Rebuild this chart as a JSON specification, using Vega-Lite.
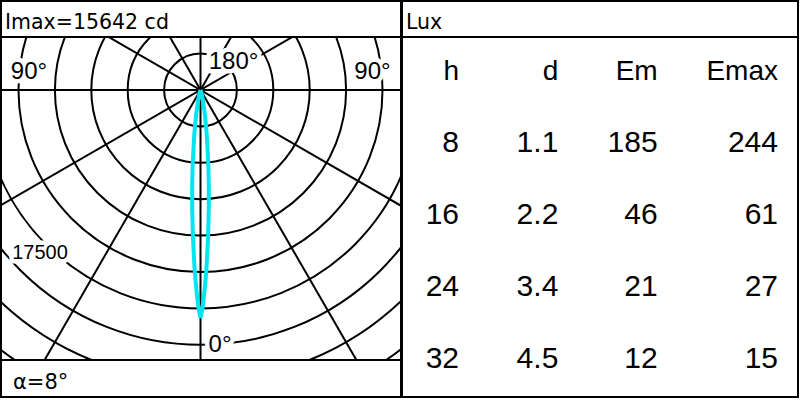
{
  "$schema": "https://vega.github.io/schema/vega-lite/v6.json",
  "padding": 0,
  "background": "white",
  "spacing": -2,
  "config": {"view": {"stroke": "black", "strokeWidth": 2}, "concat": {"spacing": 0}},
  "hconcat": [
    {
      "spacing": 0,
      "bounds": "flush",
      "vconcat": [
        {
          "width": 400, "height": 36,
          "data": {"values": [{"label": "Imax=15642 cd"}]},
          "mark": {"type": "text", "align": "left", "baseline": "alphabetic", "font": "DejaVu Sans", "fontSize": 20.5, "dx": 4, "dy": 10, "color": "black"},
          "encoding": {
            "x": {"datum": 0, "type": "quantitative", "scale": {"domain": [0, 1]}, "axis": null},
            "text": {"field": "label", "type": "nominal"}
          }
        },
        {
          "width": 400, "height": 323,
          "layer": [
            {
              "data": {"values": [{"r": 2500}, {"r": 5000}, {"r": 7500}, {"r": 10000}, {"r": 12500}, {"r": 15000}, {"r": 17500}, {"r": 20000}, {"r": 22500}]},
              "mark": {"type": "point", "shape": "circle", "filled": false, "stroke": "black", "strokeWidth": 2, "opacity": 1, "clip": true},
              "encoding": {
                "x": {"datum": 0, "type": "quantitative", "scale": {"domain": [-13702, 13770], "nice": false, "zero": false}, "axis": null},
                "y": {"datum": 0, "type": "quantitative", "scale": {"domain": [-18544, 3640], "nice": false, "zero": false}, "axis": null},
                "size": {"field": "r", "type": "quantitative", "scale": {"type": "pow", "exponent": 2, "domain": [0, 25000], "range": [0, 529984]}, "legend": null}
              }
            },
            {
              "data": {"values": [
                {"ang": 0, "x1": 0, "y1": -30000, "x2": 0, "y2": 30000},
                {"ang": 30, "x1": 15000, "y1": -25981, "x2": -15000, "y2": 25981},
                {"ang": 60, "x1": 25981, "y1": -15000, "x2": -25981, "y2": 15000},
                {"ang": 90, "x1": 30000, "y1": 0, "x2": -30000, "y2": 0},
                {"ang": 120, "x1": 25981, "y1": 15000, "x2": -25981, "y2": -15000},
                {"ang": 150, "x1": 15000, "y1": 25981, "x2": -15000, "y2": -25981}
              ]},
              "mark": {"type": "rule", "color": "black", "strokeWidth": 2, "clip": true},
              "encoding": {
                "x": {"field": "x1", "type": "quantitative", "scale": {"domain": [-13702, 13770], "nice": false, "zero": false}, "axis": null},
                "x2": {"field": "x2"},
                "y": {"field": "y1", "type": "quantitative", "scale": {"domain": [-18544, 3640], "nice": false, "zero": false}, "axis": null},
                "y2": {"field": "y2"}
              }
            },
            {
              "data": {"values": [
                {"angle": -30, "x": 0, "y": 0},
                {"angle": -20, "x": -23, "y": -63},
                {"angle": -15, "x": -97, "y": -363},
                {"angle": -12, "x": -202, "y": -952},
                {"angle": -10, "x": -306, "y": -1736},
                {"angle": -8, "x": -428, "y": -3048},
                {"angle": -6, "x": -538, "y": -5115},
                {"angle": -5, "x": -569, "y": -6501},
                {"angle": -4, "x": -569, "y": -8134},
                {"angle": -3, "x": -524, "y": -10005},
                {"angle": -2, "x": -421, "y": -12044},
                {"angle": -1.5, "x": -343, "y": -13082},
                {"angle": -1, "x": -246, "y": -14088},
                {"angle": -0.5, "x": -131, "y": -15002},
                {"angle": 0, "x": 0, "y": -15642},
                {"angle": 0.5, "x": 131, "y": -15002},
                {"angle": 1, "x": 246, "y": -14088},
                {"angle": 1.5, "x": 343, "y": -13082},
                {"angle": 2, "x": 421, "y": -12044},
                {"angle": 3, "x": 524, "y": -10005},
                {"angle": 4, "x": 569, "y": -8134},
                {"angle": 5, "x": 569, "y": -6501},
                {"angle": 6, "x": 538, "y": -5115},
                {"angle": 8, "x": 428, "y": -3048},
                {"angle": 10, "x": 306, "y": -1736},
                {"angle": 12, "x": 202, "y": -952},
                {"angle": 15, "x": 97, "y": -363},
                {"angle": 20, "x": 23, "y": -63},
                {"angle": 30, "x": 0, "y": 0}
              ]},
              "mark": {"type": "line", "color": "#00e6f0", "strokeWidth": 4, "clip": true},
              "encoding": {
                "x": {"field": "x", "type": "quantitative", "scale": {"domain": [-13702, 13770], "nice": false, "zero": false}, "axis": null},
                "y": {"field": "y", "type": "quantitative", "scale": {"domain": [-18544, 3640], "nice": false, "zero": false}, "axis": null},
                "order": {"field": "angle", "type": "quantitative"}
              }
            },
            {
              "data": {"name": "labels", "values": [
                {"label": "90°", "x": -11779, "y": 1236},
                {"label": "90°", "x": 11813, "y": 1236},
                {"label": "180°", "x": 2266, "y": 1957},
                {"label": "0°", "x": 1339, "y": -17513},
                {"label": "17500", "x": -11023, "y": -11161}
              ]},
              "layer": [
                {
                  "mark": {"type": "text", "font": "Liberation Sans", "align": "center", "baseline": "middle", "fill": "white", "stroke": "white", "strokeWidth": 9, "strokeJoin": "round"},
                  "encoding": {
                    "x": {"field": "x", "type": "quantitative", "scale": {"domain": [-13702, 13770], "nice": false, "zero": false}, "axis": null},
                    "y": {"field": "y", "type": "quantitative", "scale": {"domain": [-18544, 3640], "nice": false, "zero": false}, "axis": null},
                    "text": {"field": "label", "type": "nominal"},
                    "size": {"condition": {"test": "datum.label === '17500'", "value": 20}, "value": 24}
                  }
                },
                {
                  "mark": {"type": "text", "font": "Liberation Sans", "align": "center", "baseline": "middle", "color": "black"},
                  "encoding": {
                    "x": {"field": "x", "type": "quantitative", "scale": {"domain": [-13702, 13770], "nice": false, "zero": false}, "axis": null},
                    "y": {"field": "y", "type": "quantitative", "scale": {"domain": [-18544, 3640], "nice": false, "zero": false}, "axis": null},
                    "text": {"field": "label", "type": "nominal"},
                    "size": {"condition": {"test": "datum.label === '17500'", "value": 20}, "value": 24}
                  }
                }
              ]
            }
          ]
        },
        {
          "width": 400, "height": 37,
          "data": {"values": [{"label": "α=8°"}]},
          "mark": {"type": "text", "align": "left", "baseline": "alphabetic", "font": "DejaVu Sans", "fontSize": 21, "dx": 12, "dy": 10.5, "color": "black"},
          "encoding": {
            "x": {"datum": 0, "type": "quantitative", "scale": {"domain": [0, 1]}, "axis": null},
            "text": {"field": "label", "type": "nominal"}
          }
        }
      ]
    },
    {
      "spacing": 0,
      "bounds": "flush",
      "vconcat": [
        {
          "width": 396, "height": 36,
          "data": {"values": [{"label": "Lux"}]},
          "mark": {"type": "text", "align": "left", "baseline": "alphabetic", "font": "DejaVu Sans", "fontSize": 20.5, "dx": 4, "dy": 10, "color": "black"},
          "encoding": {
            "x": {"datum": 0, "type": "quantitative", "scale": {"domain": [0, 1]}, "axis": null},
            "text": {"field": "label", "type": "nominal"}
          }
        },
        {
          "width": 396, "height": 360,
          "layer": [
            {
              "data": {"values": [
                {"h": 8, "d": "1.1", "Em": 185, "Emax": 244},
                {"h": 16, "d": "2.2", "Em": 46, "Emax": 61},
                {"h": 24, "d": "3.4", "Em": 21, "Emax": 27},
                {"h": 32, "d": "4.5", "Em": 12, "Emax": 15}
              ]},
              "transform": [{"fold": ["h", "d", "Em", "Emax"], "as": ["col", "val"]}],
              "mark": {"type": "text", "align": "right", "baseline": "alphabetic", "font": "Liberation Sans", "fontSize": 30, "color": "black",
                       "dx": {"expr": "datum.col === 'd' ? -7 : (datum.col === 'Em' ? -14 : 0)"}},
              "encoding": {
                "x": {"field": "col", "type": "nominal", "scale": {"type": "point", "padding": 0, "domain": ["h", "d", "Em", "Emax"], "range": [57, 376]}, "axis": null},
                "y": {"field": "h", "type": "quantitative", "scale": {"domain": [0, 32], "range": [43, 331], "nice": false, "zero": false}, "axis": null},
                "text": {"field": "val", "type": "nominal"}
              }
            },
            {
              "data": {"values": [{"col": "h"}, {"col": "d"}, {"col": "Em"}, {"col": "Emax"}]},
              "mark": {"type": "text", "align": "right", "baseline": "alphabetic", "font": "Liberation Sans", "fontSize": 28, "color": "black",
                       "dx": {"expr": "datum.col === 'd' ? -7 : (datum.col === 'Em' ? -14 : 0)"}},
              "encoding": {
                "x": {"field": "col", "type": "nominal", "scale": {"type": "point", "padding": 0, "domain": ["h", "d", "Em", "Emax"], "range": [57, 376]}, "axis": null},
                "y": {"datum": 0, "type": "quantitative", "scale": {"domain": [0, 32], "range": [43, 331], "nice": false, "zero": false}, "axis": null},
                "text": {"field": "col", "type": "nominal"}
              }
            }
          ]
        }
      ]
    }
  ]
}
